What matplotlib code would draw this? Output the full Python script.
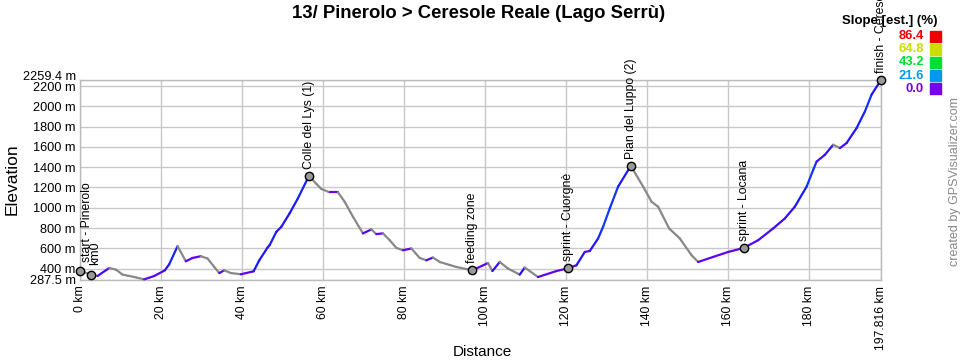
import numpy as np
import matplotlib
matplotlib.use('Agg')
import matplotlib.pyplot as plt
import matplotlib.transforms as mtransforms
from matplotlib.collections import LineCollection
from matplotlib.colors import LinearSegmentedColormap

plt.rcParams['font.family'] = ['Liberation Sans', 'DejaVu Sans']

# profile: distance (km) and elevation (m)
dist_km = [0.0, 2.67, 4.32, 7.22, 8.85, 10.50, 13.39, 15.86, 18.33, 20.95, 22.04, 24.09,
           26.14, 27.80, 29.85, 31.51, 33.16, 34.40, 35.63, 37.26, 39.73, 42.87, 44.28,
           46.33, 46.83, 48.48, 49.72, 51.77, 53.82, 56.54, 58.37, 59.60, 61.65, 63.70,
           65.36, 67.41, 69.88, 71.95, 73.19, 74.82, 76.48, 78.13, 79.76, 81.84, 83.89,
           85.55, 87.18, 88.83, 92.96, 96.91, 100.77, 101.85, 103.66, 105.71, 108.60,
           109.84, 113.12, 117.67, 120.53, 122.61, 124.66, 125.90, 127.95, 129.18,
           130.84, 132.89, 136.03, 139.07, 141.14, 142.77, 145.49, 148.13, 151.03,
           152.66, 156.37, 160.07, 163.95, 167.48, 171.19, 174.08, 176.55, 179.44,
           181.07, 181.91, 183.96, 186.01, 187.67, 189.32, 191.80, 193.85, 195.50,
           197.816]
elev_m = [378, 341, 327, 406, 390, 341, 317, 294, 327, 383, 443, 621,
          472, 505, 522, 499, 416, 356, 383, 356, 344, 373, 482,
          608, 631, 762, 812, 945, 1093, 1314, 1235, 1185, 1152, 1152,
          1059, 911, 747, 786, 740, 747, 680, 604, 581, 598, 505,
          482, 509, 465, 416, 383, 455, 376, 465, 400, 341,
          410, 317, 376, 403, 433, 564, 574, 697, 812,
          994, 1208, 1413, 1208, 1059, 1010, 796, 697, 532,
          465, 515, 564, 604, 680, 796, 895, 1011, 1208,
          1373, 1455, 1522, 1621, 1588, 1638, 1786, 1950, 2116,
          2259.4]

# waypoints
wp_names = ['start - Pinerolo', 'km0', 'Colle del Lys (1)', 'feeding zone',
            'sprint - Cuorgnè', 'Pian del Luppo (2)', 'sprint - Locana', 'finish - Ceresole']
wp_km = [0.0, 2.67, 56.54, 96.91, 120.53, 136.03, 163.95, 197.816]
wp_elev = [378, 341, 1314, 383, 403, 1413, 604, 2259.4]

x_ticks = [0, 20, 40, 60, 80, 100, 120, 140, 160, 180, 197.816]
x_labels = ['0 km', '20 km', '40 km', '60 km', '80 km', '100 km', '120 km',
            '140 km', '160 km', '180 km', '197.816 km']
y_ticks = [287.5, 400, 600, 800, 1000, 1200, 1400, 1600, 1800, 2000, 2200, 2259.4]
y_labels = ['287.5 m', '400 m', '600 m', '800 m', '1000 m', '1200 m', '1400 m',
            '1600 m', '1800 m', '2000 m', '2200 m', '2259.4 m']

legend_vals = ['86.4', '64.8', '43.2', '21.6', '0.0']
legend_cols = ['#ee0000', '#ccdd00', '#00dd33', '#0099ee', '#7700ee']

slope_cmap = LinearSegmentedColormap.from_list(
    'slope', [(0, '#6a00f0'), (0.08, '#1818ff'), (0.25, '#0099ee'),
              (0.5, '#00dd33'), (0.75, '#ccdd00'), (1.0, '#ee0000')])

fig = plt.figure(figsize=(9.6, 3.6), dpi=100)
ax = fig.add_axes([80 / 960, 1 - 280 / 360, 801 / 960, 200 / 360])

x = np.array(dist_km)
y = np.array(elev_m)
pts = np.column_stack([x, y]).reshape(-1, 1, 2)
segs = np.concatenate([pts[:-1], pts[1:]], axis=1)
slope = np.diff(y) / (np.diff(x) * 1000) * 100
cols = [slope_cmap(min(s / 86.4, 1)) if s >= 0 else '#888888' for s in slope]
lc = LineCollection(segs, colors=cols, linewidths=1.6, capstyle='round', zorder=3)
lc.set_clip_on(False)
ax.add_collection(lc)

ax.scatter(wp_km, wp_elev, s=36, facecolor='#999999', edgecolor='black',
           linewidth=1.0, zorder=4, clip_on=False)

# label offsets in points (dx, dy)
offsets = [(5, 6), (3, 7), (0, 5), (0, 5), (0, 5), (0, 5), (0, 5), (0, 5)]
for name, k, e, (dx, dy) in zip(wp_names, wp_km, wp_elev, offsets):
    ax.annotate(name, (k, e), xytext=(dx, dy), textcoords='offset points',
                rotation=90, ha='center', va='bottom', fontsize=8.8,
                annotation_clip=False)

ax.set_xlim(0, 197.816)
ax.set_ylim(287.5, 2259.4)
ax.set_xticks(x_ticks)
ax.set_xticklabels(x_labels, rotation=90, fontsize=8.8)
ax.set_yticks(y_ticks)
ax.set_yticklabels(y_labels, fontsize=9.2)
ax.tick_params(axis='y', length=0, pad=3)
ax.tick_params(axis='x', length=0, pad=4)
ax.grid(True, color='#c8c8c8', linewidth=1.0)
for sp in ax.spines.values():
    sp.set_color('#bbbbbb')
    sp.set_linewidth(1.0)

# the top limit label sits slightly above its line, like the original
top_lbl = ax.get_yticklabels()[-1]
top_lbl.set_transform(top_lbl.get_transform() +
                      mtransforms.ScaledTranslation(0, 4 / 100, fig.dpi_scale_trans))

fig.text(12 / 960, 1 - 179 / 360, 'Elevation', rotation=90, ha='center',
         va='center', fontsize=12.5)
fig.text(482 / 960, 1 - 352 / 360, 'Distance', ha='center', va='center', fontsize=11)
fig.text(479 / 960, 1 - 14 / 360, '13/ Pinerolo > Ceresole Reale (Lago Serrù)',
         ha='center', va='center', fontsize=13.3, fontweight='bold')

# slope legend
fig.text(937 / 960, 1 - 21 / 360, 'Slope [est.] (%)', ha='right', va='center',
         fontsize=9.5, fontweight='bold')
for i, (v, c) in enumerate(zip(legend_vals, legend_cols)):
    yc = 1 - (36 + i * 13.2) / 360
    fig.text(924 / 960, yc, v, ha='right', va='center', fontsize=9.4,
             fontweight='bold', color=c)
    fig.patches.append(plt.Rectangle((930 / 960, yc - 5.5 / 360), 11 / 960, 11 / 360,
                                     transform=fig.transFigure, color=c))

fig.text(955 / 960, 1 - 182 / 360, 'created by GPSVisualizer.com', rotation=90,
         ha='center', va='center', fontsize=9, color='#888888')

fig.savefig('out.png', dpi=100)
